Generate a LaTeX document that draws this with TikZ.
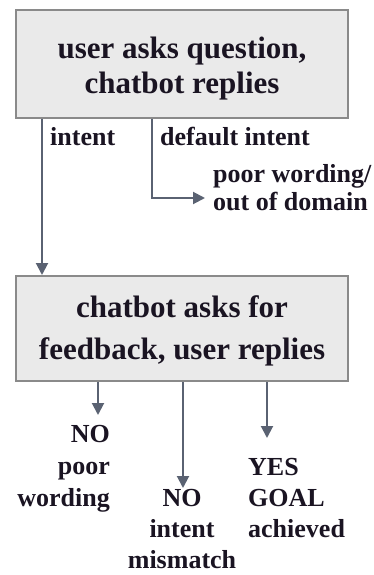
\documentclass[tikz,border=0pt]{standalone}
\usepackage{fontspec}
\setmainfont{Liberation Serif}
\usetikzlibrary{arrows.meta}
\definecolor{boxfill}{HTML}{EAEAEA}
\definecolor{boxline}{HTML}{8A8A8A}
\definecolor{arrline}{HTML}{5A6272}
\definecolor{txt}{HTML}{1A1422}
\begin{document}
\begin{tikzpicture}[x=1pt,y=-1pt,
  box/.style={draw=boxline, fill=boxfill, line width=2pt, minimum width=332pt,
    align=center, text=txt, inner sep=0pt},
  conn/.style={draw=arrline, line width=2pt, -{Triangle[length=12pt,width=12pt]}},
  lbl/.style={font=\bfseries\fontsize{26}{32}\selectfont, text=txt, inner sep=0pt}
]
\useasboundingbox (0,0) rectangle (373,575);
\fill[white] (0,0) rectangle (373,575);

\node[box, minimum height=108pt, font=\bfseries\fontsize{31}{35}\selectfont] (q) at (182,64)
  {\rule{0pt}{30pt}user asks question,\\chatbot replies};
\node[box, minimum height=105pt, font=\bfseries\fontsize{31}{42}\selectfont] (f) at (182,328.5)
  {\rule{0pt}{27pt}chatbot asks for\\feedback, user replies};

% top connectors
\coordinate (ix) at (42,0);
\coordinate (dx) at (152,0);
\coordinate (dt) at (205,198);
\draw[conn] (q.south -| ix) -- (f.north -| ix);
\draw[conn] (q.south -| dx) |- (dt);

\node[lbl, anchor=base west] (lint) at (50,145) {intent};
\node[lbl, anchor=base west] (ldef) at (160,145) {default intent};
\node[lbl, anchor=base west, align=left, font=\bfseries\fontsize{26}{28}\selectfont] (lpoor) at (213,210)
  {poor wording/\\out of domain};

% bottom connectors
\coordinate (b1) at (98,415);
\coordinate (b2) at (183,488);
\coordinate (b3) at (267,438);
\draw[conn] (f.south -| b1) -- (b1);
\draw[conn] (f.south -| b2) -- (b2);
\draw[conn] (f.south -| b3) -- (b3);

\node[lbl, anchor=base east, align=right] (o1) at (110,506) {NO\\poor\\wording};
\node[lbl, anchor=base, align=center, font=\bfseries\fontsize{26}{31}\selectfont] (o2) at (182,568) {NO\\intent\\mismatch};
\node[lbl, anchor=base west, align=left, font=\bfseries\fontsize{26}{31}\selectfont] (o3) at (248,537) {YES\\GOAL\\achieved};
\end{tikzpicture}
\end{document}
